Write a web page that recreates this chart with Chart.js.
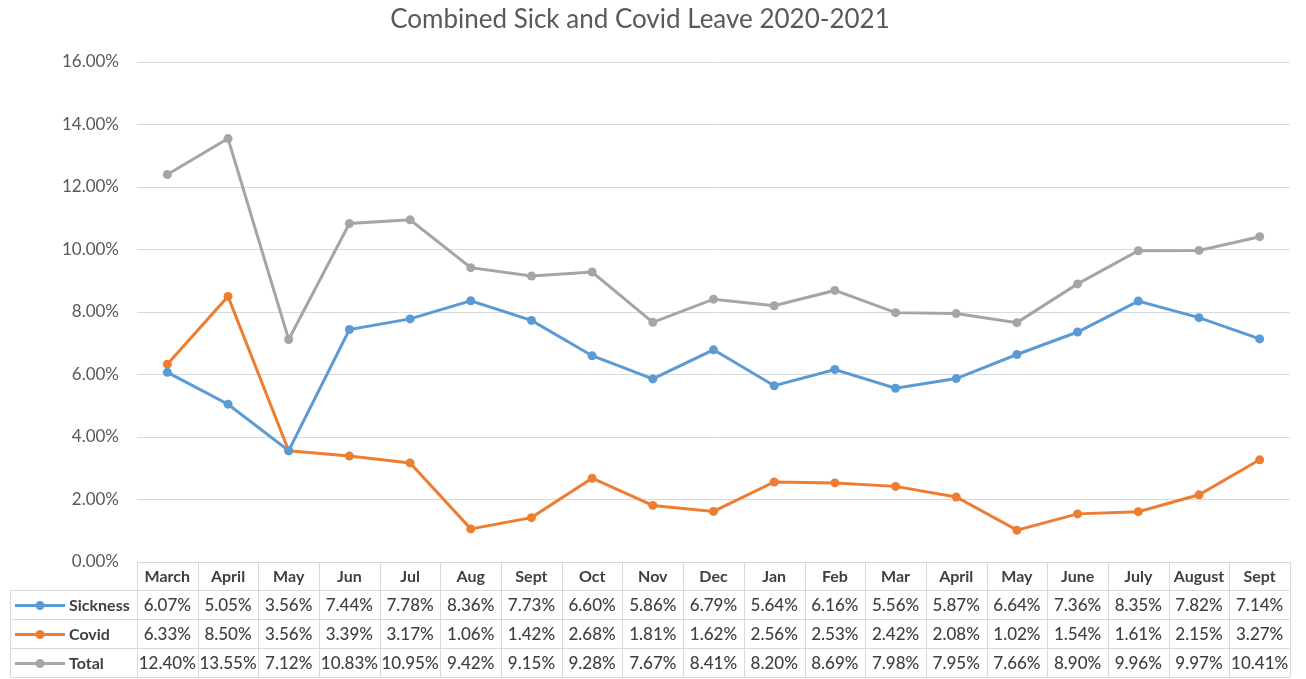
<!DOCTYPE html>
<html>
<head>
<meta charset="utf-8">
<title>Combined Sick and Covid Leave 2020-2021</title>
<script src="https://cdn.jsdelivr.net/npm/chart.js@4.4.0/dist/chart.umd.min.js"></script>
<style>
  body { margin: 0; background: #ffffff; }
  #wrap { width: 1306px; height: 679px; }
</style>
</head>
<body>
<div id="wrap"><canvas id="leaveChart" width="1306" height="679"></canvas></div>
<script>
// months Mar 2020 - Sept 2021
const months = ["March", "April", "May", "Jun", "Jul", "Aug", "Sept", "Oct", "Nov", "Dec",
  "Jan", "Feb", "Mar", "April", "May", "June", "July", "August", "Sept"];

const sickness = [6.07, 5.05, 3.56, 7.44, 7.78, 8.36, 7.73, 6.60, 5.86, 6.79,
  5.64, 6.16, 5.56, 5.87, 6.64, 7.36, 8.35, 7.82, 7.14];
const covid = [6.33, 8.50, 3.56, 3.39, 3.17, 1.06, 1.42, 2.68, 1.81, 1.62,
  2.56, 2.53, 2.42, 2.08, 1.02, 1.54, 1.61, 2.15, 3.27];
const total = [12.40, 13.55, 7.12, 10.83, 10.95, 9.42, 9.15, 9.28, 7.67, 8.41,
  8.20, 8.69, 7.98, 7.95, 7.66, 8.90, 9.96, 9.97, 10.41];

const seriesNames = ["Sickness", "Covid", "Total"];
const seriesColors = ["#5B9BD5", "#ED7D31", "#A5A5A5"];

const FONT = "Lato, 'Noto Sans', sans-serif";
const gridColor = "#d9d9d9";
const textColor = "#404040";

// draws the title and the data table under the plot
const tablePlugin = {
  id: "dataTable",
  afterDraw(chart) {
    const ctx = chart.ctx;
    const area = chart.chartArea;
    const xs = chart.scales.x;
    const band = xs.width / months.length;
    const top = area.bottom;
    const headH = 28;
    const rowH = 29;
    const tableLeft = 10;
    const bottom = top + headH + rowH * 3;

    ctx.save();

    // title
    ctx.fillStyle = "#595959";
    ctx.font = "26px " + FONT;
    ctx.textAlign = "center";
    ctx.textBaseline = "middle";
    ctx.fillText("Combined Sick and Covid Leave 2020-2021", 640, 20);

    // grid
    ctx.strokeStyle = gridColor;
    ctx.lineWidth = 1;
    ctx.beginPath();
    ctx.moveTo(area.left, top + 0.5);
    ctx.lineTo(area.right, top + 0.5);
    for (let r = 0; r <= 3; r++) {
      const y = Math.round(top + headH + r * rowH) + 0.5;
      ctx.moveTo(tableLeft, y);
      ctx.lineTo(area.right, y);
    }
    ctx.moveTo(tableLeft + 0.5, top + headH);
    ctx.lineTo(tableLeft + 0.5, bottom);
    for (let i = 0; i <= months.length; i++) {
      const x = Math.round(area.left + i * band) + 0.5;
      ctx.moveTo(x, top);
      ctx.lineTo(x, bottom);
    }
    ctx.stroke();

    // header
    ctx.fillStyle = textColor;
    ctx.font = "bold 16px " + FONT;
    months.forEach((m, i) => {
      ctx.fillText(m, xs.getPixelForValue(i), top + headH / 2 + 1);
    });

    // rows
    const rows = [sickness, covid, total];
    rows.forEach((vals, r) => {
      const yMid = top + headH + r * rowH + rowH / 2 + 1;
      // legend key
      ctx.strokeStyle = seriesColors[r];
      ctx.lineWidth = 3;
      ctx.beginPath();
      ctx.moveTo(15, yMid);
      ctx.lineTo(65, yMid);
      ctx.stroke();
      ctx.fillStyle = seriesColors[r];
      ctx.beginPath();
      ctx.arc(40, yMid, 4.5, 0, Math.PI * 2);
      ctx.fill();

      ctx.fillStyle = textColor;
      ctx.font = "bold 16px " + FONT;
      ctx.textAlign = "left";
      ctx.fillText(seriesNames[r], 69, yMid);

      ctx.font = "500 17px " + FONT;
      ctx.textAlign = "center";
      vals.forEach((v, i) => {
        ctx.fillText(v.toFixed(2) + "%", xs.getPixelForValue(i), yMid);
      });
    });

    ctx.restore();
  },
};

const makeSet = (label, data, color) => ({
  label: label,
  data: data,
  borderColor: color,
  backgroundColor: color,
  borderWidth: 3,
  pointRadius: 4.5,
  pointHoverRadius: 4.5,
  pointBorderWidth: 0,
  tension: 0,
});

new Chart(document.getElementById("leaveChart"), {
  type: "line",
  data: {
    labels: months,
    datasets: [
      makeSet("Sickness", sickness, seriesColors[0]),
      makeSet("Covid", covid, seriesColors[1]),
      makeSet("Total", total, seriesColors[2]),
    ],
  },
  options: {
    responsive: false,
    animation: false,
    layout: {
      padding: { top: 62, right: 16, bottom: 117, left: 0 },
    },
    plugins: {
      legend: { display: false },
      title: { display: false },
      tooltip: { enabled: false },
    },
    scales: {
      x: {
        display: false,
        offset: true,
      },
      y: {
        min: 0,
        max: 16,
        afterFit(scale) {
          scale.width = 137;
        },
        border: { display: false },
        grid: { color: gridColor, drawTicks: false },
        ticks: {
          stepSize: 2,
          padding: 18,
          color: "#595959",
          font: { family: FONT, size: 17 },
          callback: (v) => v.toFixed(2) + "%",
        },
      },
    },
  },
  plugins: [tablePlugin],
});
</script>
</body>
</html>
